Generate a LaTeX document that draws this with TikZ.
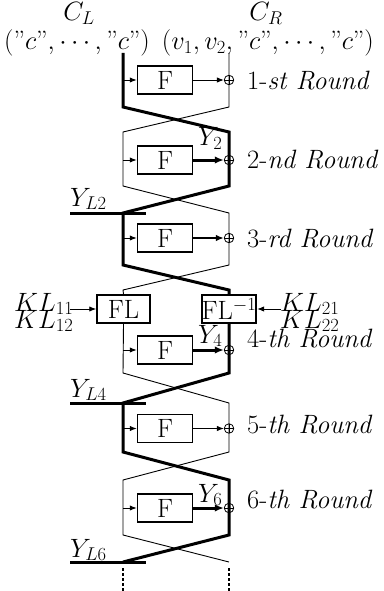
\RequirePackage{fix-cm}
\documentclass[tikz,border=0pt]{standalone}
\usetikzlibrary{arrows.meta}
\newcommand{\bigtxt}{\fontsize{26.5}{30}\selectfont}
\begin{document}
\begin{tikzpicture}[x=1pt,y=-1pt,font=\bigtxt]
\tikzset{
  thinln/.style={line width=0.9pt},
  midln/.style={line width=2pt},
  thickln/.style={line width=3pt},
  fbox/.style={draw,line width=1.7pt,minimum width=55pt,minimum height=28pt,inner sep=0pt},
  xor/.style={circle,draw,minimum size=9.5pt,inner sep=0pt,line width=0.8pt,
    path picture={\draw[line width=0.8pt] (path picture bounding box.north) -- (path picture bounding box.south)
      (path picture bounding box.west) -- (path picture bounding box.east);}},
  tip/.style={-{Latex[length=6pt 1,width=4.5pt 1]}},
  lbl/.style={anchor=base west,inner sep=0pt},
  dashln/.style={line width=1.2pt,dash pattern=on 3pt off 2pt},
}
\useasboundingbox (0,0) rectangle (383,591);
% coordinates
\foreach \n/\y in {0/53,1b/107,2t/132,2b/186,3t/213,3b/265,4t/290,4b/373,5t/403,5b/452,6t/480,6b/535,7/562}{
  \coordinate (L\n) at (123,\y);
  \coordinate (R\n) at (229,\y);
}
% boxes
\node[fbox] (f1) at (165,80) {F};
\node[fbox] (f2) at (165,160) {F};
\node[fbox] (f3) at (165,238) {F};
\node[fbox] (f4) at (165,350) {F};
\node[fbox] (f5) at (165,428.5) {F};
\node[fbox] (f6) at (165,508) {F};
\node[fbox,minimum width=53pt] (fl) at (123.5,309) {FL};
\node[fbox,minimum width=54pt] (fli) at (229,309) {FL$^{-1}$};
% main lines
\draw[thickln] (L0) -- (L1b) -- (R2t) -- (R2b) -- (L3t) -- (L3b) -- (R4t) -- (fli.north);
\draw[thickln] (fli.south) -- (R4b) -- (L5t) -- (L5b) -- (R6t) -- (R6b) -- (L7);
\draw[thinln] (R0) -- (R1b) -- (L2t) -- (L2b) -- (R3t) -- (R3b) -- (L4t) -- (fl.north);
\draw[thinln] (fl.south) -- (L4b) -- (R5t) -- (R5b) -- (L6t) -- (L6b) -- (R7);
% xors
\foreach \i/\y in {1/80,2/160,3/238,4/350,5/428.5,6/508}{
  \node[xor] (x\i) at (229,\y) {};
  \coordinate (a\i) at (123,\y);
  \draw[thinln,tip] (a\i) -- (f\i.west);
}
\draw[thinln,tip] (f1.east) -- (x1.west);
\draw[thickln,tip] (f2.east) -- (x2.west);
\draw[midln,tip] (f3.east) -- (x3.west);
\draw[thickln,tip] (f4.east) -- (x4.west);
\draw[thinln,tip] (f5.east) -- (x5.west);
\draw[thickln,tip] (f6.east) -- (x6.west);
% Y_L lines
\foreach \i/\y in {2/213,4/403,6/562.5}{
  \coordinate (ys\i) at (70,\y);
  \coordinate (ye\i) at (146,\y);
  \draw[thickln] (ys\i) -- (ye\i);
}
% dashed continuations
\coordinate (dl1) at (123,568); \coordinate (dl2) at (123,591);
\coordinate (dr1) at (229,568); \coordinate (dr2) at (229,591);
\draw[dashln] (dl1) -- (dl2);
\draw[dashln] (dr1) -- (dr2);
% KL arrows
\coordinate (k1) at (70,309);
\coordinate (k2) at (281,309);
\draw[thinln,tip] (k1) -- (fl.west);
\draw[thinln,tip] (k2) -- (fli.east);
% labels
\node[anchor=base,inner sep=0pt] (cl) at (79,21) {$C_L$};
\node[anchor=base,inner sep=0pt] (cr) at (266,21) {$C_R$};
\node[anchor=base west,inner sep=0pt] (tl) at (4,50) {$(\mbox{”}c\mbox{”},\cdots,\mbox{”}c\mbox{”})$};
\node[anchor=base east,inner sep=0pt] (tr) at (374,50) {$(v_1,v_2,\mbox{”}c\mbox{”},\cdots,\mbox{”}c\mbox{”})$};
\node[lbl] (r1) at (247,90) {1-\textit{st Round}};
\node[lbl] (r2) at (247,168) {2-\textit{nd Round}};
\node[lbl] (r3) at (247,247) {3-\textit{rd Round}};
\node[lbl] (r4) at (247,347) {4-\textit{th Round}};
\node[lbl] (r5) at (247,433) {5-\textit{th Round}};
\node[lbl] (r6) at (247,508) {6-\textit{th Round}};
\node[lbl] (y2) at (198,146) {$Y_2$};
\node[lbl] (y4) at (198,343) {$Y_4$};
\node[lbl] (y6) at (198,502) {$Y_6$};
\node[lbl] (yl2) at (70,206) {$Y_{L2}$};
\node[lbl] (yl4) at (70,397) {$Y_{L4}$};
\node[lbl] (yl6) at (70,557) {$Y_{L6}$};
\node[lbl] (kl11) at (14,311) {$KL_{11}$};
\node[lbl] (kl12) at (14,328) {$KL_{12}$};
\node[lbl] (kl21) at (280,311) {$KL_{21}$};
\node[lbl] (kl22) at (280,328) {$KL_{22}$};
\end{tikzpicture}
\end{document}
